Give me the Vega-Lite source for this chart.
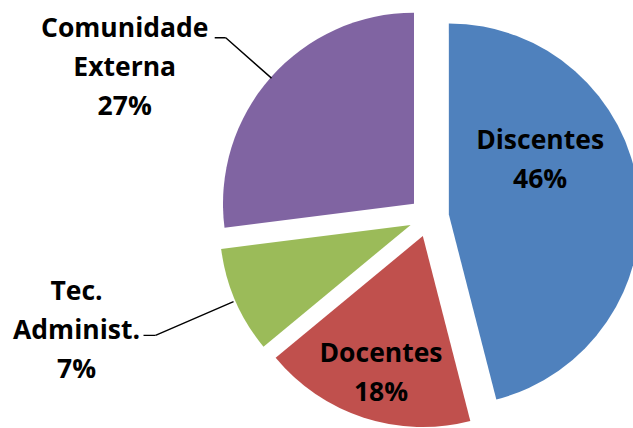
{
  "$schema": "https://vega.github.io/schema/vega-lite/v6.json",
  "width": 400,
  "height": 422,
  "autosize": {"type": "none"},
  "padding": {"left": 229, "top": 6, "right": 4, "bottom": 0},
  "background": "white",
  "view": {"stroke": null},
  "data": {
    "values": [
      {"categoria": "Discentes", "valor": 46, "ordem": 1, "rotulo": "Discentes\n46%"},
      {"categoria": "Docentes", "valor": 18, "ordem": 2, "rotulo": "Docentes\n18%"},
      {"categoria": "Tec. Administ.", "valor": 9, "ordem": 3, "rotulo": "Tec.\nAdminist.\n7%"},
      {"categoria": "Comunidade Externa", "valor": 27, "ordem": 4, "rotulo": "Comunidade\nExterna\n27%"}
    ]
  },
  "transform": [
    {"stack": "valor", "groupby": [], "sort": [{"field": "ordem", "order": "ascending"}], "as": ["ini", "fim"]},
    {"calculate": "(datum.ini + datum.fim) / 2", "as": "meio"}
  ],
  "layer": [
    {
      "mark": {
        "type": "arc",
        "radius": 191,
        "xOffset": {"expr": "20 * sin(PI * datum.meio / 50)"},
        "yOffset": {"expr": "-20 * cos(PI * datum.meio / 50)"}
      },
      "encoding": {
        "theta": {"field": "ini", "type": "quantitative", "scale": {"domain": [0, 100]}},
        "theta2": {"field": "fim"},
        "color": {
          "field": "categoria",
          "type": "nominal",
          "scale": {
            "domain": ["Discentes", "Docentes", "Tec. Administ.", "Comunidade Externa"],
            "range": ["#4F81BD", "#C0504D", "#9BBB59", "#8064A2"]
          },
          "legend": null
        }
      }
    },
    {
      "transform": [{"filter": "datum.categoria === 'Comunidade Externa'"}],
      "mark": {"type": "arc", "radius": 271, "radius2": 210, "stroke": "black", "strokeWidth": 1.4, "fill": "black"},
      "encoding": {
        "theta": {"field": "meio", "type": "quantitative"},
        "theta2": {"field": "meio"}
      }
    },
    {
      "transform": [{"filter": "datum.categoria === 'Comunidade Externa'"}],
      "mark": {
        "type": "arc", "radius": 11, "radius2": 0, "stroke": "black", "strokeWidth": 1.4, "fill": "black",
        "xOffset": {"expr": "271 * sin(PI * datum.meio / 50)"},
        "yOffset": {"expr": "-271 * cos(PI * datum.meio / 50)"}
      },
      "encoding": {
        "theta": {"datum": 75, "type": "quantitative"},
        "theta2": {"datum": 75}
      }
    },
    {
      "transform": [{"filter": "datum.categoria === 'Tec. Administ.'"}],
      "mark": {"type": "arc", "radius": 298, "radius2": 213, "stroke": "black", "strokeWidth": 1.4, "fill": "black"},
      "encoding": {
        "theta": {"field": "meio", "type": "quantitative"},
        "theta2": {"field": "meio"}
      }
    },
    {
      "transform": [{"filter": "datum.categoria === 'Tec. Administ.'"}],
      "mark": {
        "type": "arc", "radius": 12, "radius2": 0, "stroke": "black", "strokeWidth": 1.4, "fill": "black",
        "xOffset": {"expr": "298 * sin(PI * datum.meio / 50)"},
        "yOffset": {"expr": "-298 * cos(PI * datum.meio / 50)"}
      },
      "encoding": {
        "theta": {"datum": 75, "type": "quantitative"},
        "theta2": {"datum": 75}
      }
    },
    {
      "transform": [{"filter": "datum.categoria === 'Discentes'"}],
      "mark": {"type": "text", "radius": 112, "dy": -62, "font": "Open Sans", "fontWeight": "bold", "fontSize": 26.5, "lineHeight": 39, "lineBreak": "\n", "align": "center", "baseline": "middle", "color": "black"},
      "encoding": {
        "theta": {"field": "meio", "type": "quantitative"},
        "text": {"field": "rotulo"}
      }
    },
    {
      "transform": [{"filter": "datum.categoria === 'Docentes'"}],
      "mark": {"type": "text", "radius": 165, "dx": 3, "dy": -20, "font": "Open Sans", "fontWeight": "bold", "fontSize": 26.5, "lineHeight": 39, "lineBreak": "\n", "align": "center", "baseline": "middle", "color": "black"},
      "encoding": {
        "theta": {"field": "meio", "type": "quantitative"},
        "text": {"field": "rotulo"}
      }
    },
    {
      "transform": [{"filter": "datum.categoria === 'Tec. Administ.'"}],
      "mark": {"type": "text", "radius": 371, "dx": -12, "dy": -72, "font": "Open Sans", "fontWeight": "bold", "fontSize": 26.5, "lineHeight": 39, "lineBreak": "\n", "align": "center", "baseline": "middle", "color": "black"},
      "encoding": {
        "theta": {"field": "meio", "type": "quantitative"},
        "text": {"field": "rotulo"}
      }
    },
    {
      "transform": [{"filter": "datum.categoria === 'Comunidade Externa'"}],
      "mark": {"type": "text", "radius": 339, "dx": -50, "dy": 36, "font": "Open Sans", "fontWeight": "bold", "fontSize": 26.5, "lineHeight": 39, "lineBreak": "\n", "align": "center", "baseline": "middle", "color": "black"},
      "encoding": {
        "theta": {"field": "meio", "type": "quantitative"},
        "text": {"field": "rotulo"}
      }
    }
  ]
}
